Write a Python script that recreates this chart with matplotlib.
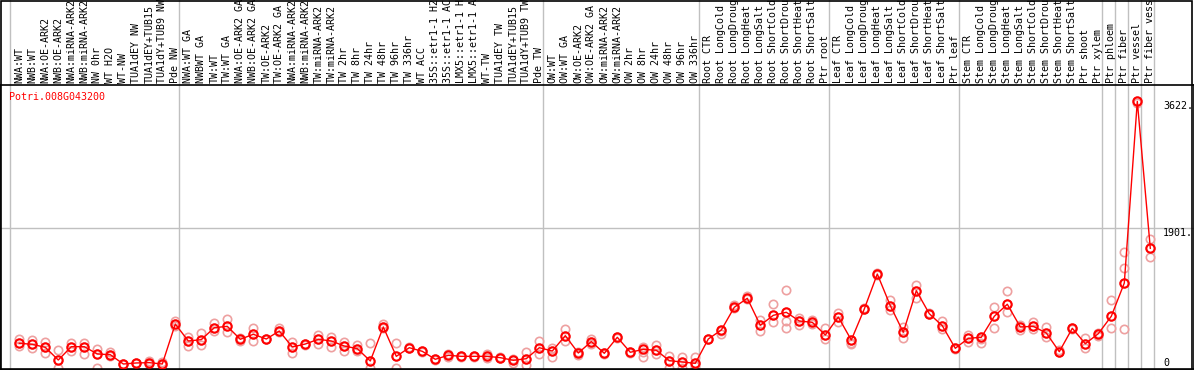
import numpy as np
import matplotlib.pyplot as plt
from matplotlib.transforms import blended_transform_factory

gene = "Potri.008G043200"

samples = [
    "NWA:WT", "NWB:WT", "NWA:OE-ARK2", "NWB:OE-ARK2", "NWA:miRNA-ARK2", "NWB:miRNA-ARK2",
    "NW 0hr", "WT H2O", "WT-NW", "TUA1dEY NW", "TUA1dEY+TUB15", "TUA1dY+TUB9 NW", "Pde NW",
    "NWA:WT GA", "NWBWT GA", "TW:WT", "TW:WT GA", "NWA:OE-ARK2 GA", "NWB:OE-ARK2 GA",
    "TW:OE-ARK2", "TW:OE-ARK2 GA", "NWA:miRNA-ARK2", "NWB:miRNA-ARK2", "TW:miRNA-ARK2",
    "TW:miRNA-ARK2", "TW 2hr", "TW 8hr", "TW 24hr", "TW 48hr", "TW 96hr", "TW 336hr",
    "WT ACC", "35S::etr1-1 H2O", "35S::etr1-1 ACC", "LMX5::etr1-1 H2O", "LMX5::etr1-1 ACC",
    "WT-TW", "TUA1dEY TW", "TUA1dEY+TUB15", "TUA1dY+TUB9 TW", "Pde TW",
    "OW:WT", "OW:WT GA", "OW:OE-ARK2", "OW:OE-ARK2 GA", "OW:miRNA-ARK2", "OW:miRNA-ARK2",
    "OW 2hr", "OW 8hr", "OW 24hr", "OW 48hr", "OW 96hr", "OW 336hr",
    "Root CTR", "Root LongCold", "Root LongDrought", "Root LongHeat", "Root LongSalt",
    "Root ShortCold", "Root ShortDrought", "Root ShortHeat", "Root ShortSalt", "Ptr root",
    "Leaf CTR", "Leaf LongCold", "Leaf LongDrought", "Leaf LongHeat", "Leaf LongSalt",
    "Leaf ShortCold", "Leaf ShortDrought", "Leaf ShortHeat", "Leaf ShortSalt", "Ptr leaf",
    "Stem CTR", "Stem LongCold", "Stem LongDrought", "Stem LongHeat", "Stem LongSalt",
    "Stem ShortCold", "Stem ShortDrought", "Stem ShortHeat", "Stem ShortSalt",
    "Ptr shoot", "Ptr xylem", "Ptr phloem", "Ptr fiber", "Ptr vessel", "Ptr fiber vessel",
]

# index of first sample in each group (gray separators)
group_starts = [0, 13, 41, 53, 63, 73, 84, 85, 86, 87, 88]

means = [
    342, 328, 287, 115, 296, 296, 197, 187, 61, 75, 79, 61, 603,
    373, 391, 553, 572, 396, 464, 400, 508, 292, 332, 396, 373, 305, 269, 102,
    563, 165, 282, 233, 125, 179, 165, 165, 165, 147, 111, 133, 282,
    237, 445, 210, 365, 206, 423, 220, 260, 247, 106, 88, 70,
    400, 522, 830, 952, 586, 721, 762, 644, 626, 454,
    698, 386, 807, 1281, 852, 491, 1055, 743, 580, 274,
    409, 423, 708, 871, 563, 572, 481, 228, 545, 336, 472,
    708, 1159, 3622, 1630,
]

reps = [
    [396, 342, 305], [386, 328, 274], [363, 287, 206], [251, 115, 5], [350, 296, 241],
    [342, 296, 197], [264, 197, 5], [228, 187, 170], [61, 55, 65], [75, 70, 80],
    [98, 79, 61], [93, 61, 45], [648, 603, 580],
    [431, 373, 305], [477, 391, 323], [621, 553, 513], [671, 572, 491], [396, 370, 410],
    [545, 464, 373], [400, 395, 405], [553, 508, 490], [359, 292, 214], [338, 320, 332],
    [454, 396, 332], [431, 373, 296], [359, 305, 233], [319, 269, 241], [350, 102, 5],
    [599, 563, 545], [346, 165, 5], [282, 290, 275], [233, 240, 228], [125, 120, 130],
    [197, 179, 160], [165, 170, 160], [165, 160, 170], [197, 165, 142], [147, 140, 150],
    [133, 111, 70], [228, 133, 50], [369, 282, 197],
    [282, 237, 151], [536, 445, 373], [228, 210, 187], [400, 355, 330], [206, 200, 215],
    [423, 415, 430], [220, 215, 225], [287, 220, 160], [323, 247, 193], [174, 106, 5],
    [152, 88, 5], [156, 70, 30],
    [400, 395, 405], [505, 468, 522], [861, 830, 815], [983, 952, 940], [658, 586, 508],
    [875, 721, 630], [1060, 762, 644, 553], [689, 644, 586], [658, 626, 603], [553, 454, 400],
    [753, 698, 626], [386, 340, 328], [807, 800, 815], [1281, 1265, 1295], [929, 852, 793],
    [567, 491, 409], [1132, 1055, 952], [743, 735, 750], [648, 580, 536], [274, 280, 268],
    [454, 409, 363], [423, 350, 400], [830, 708, 545], [1055, 871, 762], [590, 563, 522],
    [635, 572, 536], [567, 481, 431], [228, 250, 220], [545, 540, 550], [409, 336, 274],
    [472, 440, 480], [929, 708, 545], [1576, 1359, 1159, 532], [3622, 3600], [1752, 1630, 1508],
]

y_ticks = [0, 1901, 3622]
y_tick_labels = ["0", "1901.", "3622."]

W, H = 1194, 370
px_per_col = 13.0
x0 = 19.3            # pixel x of first column
y_base = 368.5       # pixel y of value 0
y_top = 85.0         # pixel y of header bottom
val_per_px = 1901 / (368.5 - 228.3)

fig = plt.figure(figsize=(W / 100, H / 100), dpi=100)
ax = fig.add_axes([0, (H - y_base) / H, 1, (y_base - y_top) / H])
ax.set_xlim(-x0 / px_per_col, (W - x0) / px_per_col)
ax.set_ylim(0, (y_base - y_top) * val_per_px)
ax.set_xticks([])
ax.set_yticks([])
for s in ax.spines.values():
    s.set_color("black")
    s.set_linewidth(1.2)

mono = "DejaVu Sans Mono"
fs = 7.2
off = (x0 - 10) / px_per_col
head = 1 + (y_top) / (y_base - y_top)

# group separators
for k in group_starts:
    ax.axvline(k - off, ymin=0, ymax=head, color="#c0c0c0", lw=1, clip_on=False, zorder=0)
ax.axhline(y_ticks[1], color="#c0c0c0", lw=1, zorder=0)

# header labels
trans = blended_transform_factory(ax.transData, ax.transAxes)
for i, lab in enumerate(samples):
    ax.text(i, 1 + 2 / (y_base - y_top), lab, transform=trans, rotation=90,
            ha="center", va="bottom", family=mono, fontsize=fs, clip_on=False)

x = np.arange(len(means))
for i, r in enumerate(reps):
    ax.plot([i] * len(r), r, "o", ms=6, mfc="none", mec="#eea0a0", mew=1.2, zorder=2)
ax.plot(x, means, "-", color="red", lw=1, zorder=3)
ax.plot(x, means, "o", ms=6, mfc="none", mec="red", mew=1.5, zorder=4)

# value labels on the right
xr = (1163 - x0) / px_per_col
ax.text(xr, y_ticks[0], y_tick_labels[0], ha="left", va="bottom", family=mono, fontsize=fs)
ax.text(xr, y_ticks[1], y_tick_labels[1], ha="left", va="top", family=mono, fontsize=fs)
ax.text(xr, y_ticks[2], y_tick_labels[2], ha="left", va="top", family=mono, fontsize=fs)

ax.text(9 / W, (y_base - 97) / (y_base - y_top), gene, transform=ax.transAxes,
        color="red", family=mono, fontsize=fs, ha="left", va="center")

# outer frame
fig.add_artist(plt.Rectangle((0.0005, 0.001), 0.998, 0.997, transform=fig.transFigure,
                             fill=False, ec="black", lw=1.2))

fig.savefig("out.png", dpi=100)
